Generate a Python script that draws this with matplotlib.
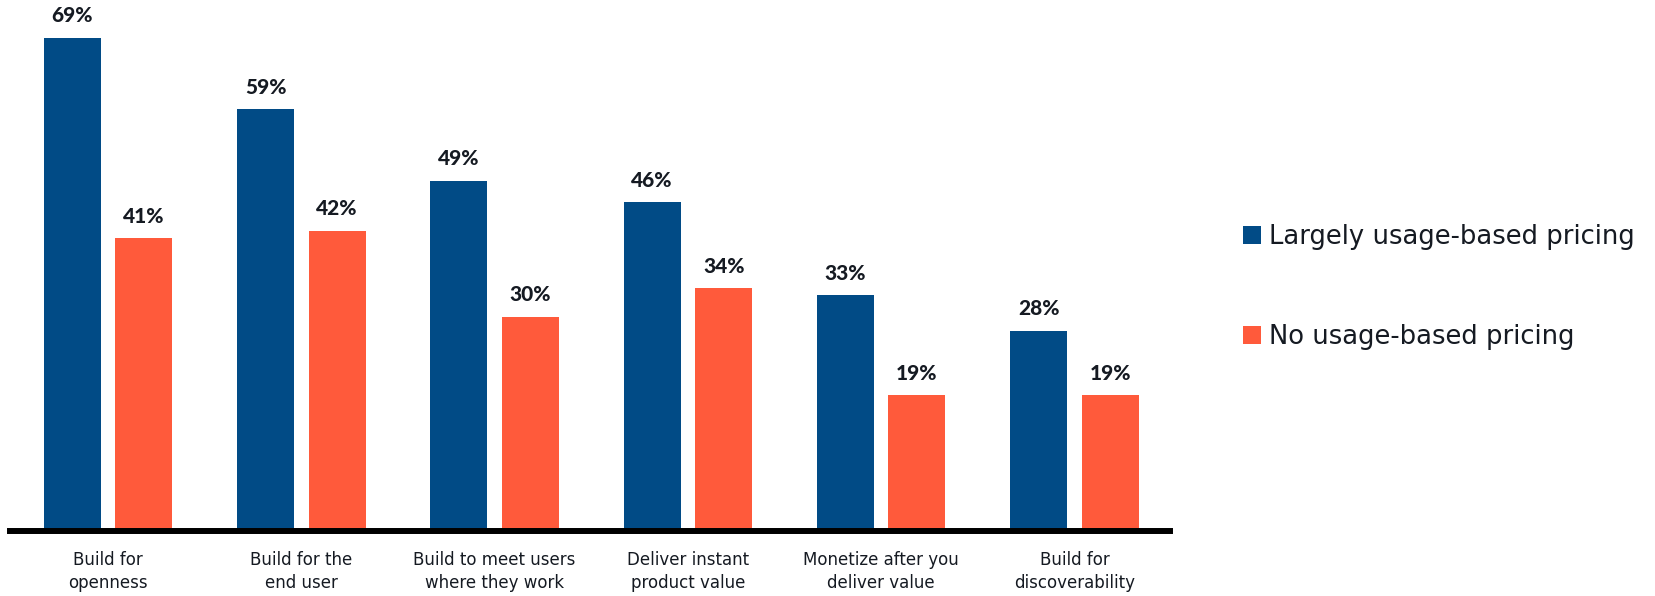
import matplotlib
matplotlib.use("Agg")
import matplotlib.pyplot as plt
import numpy as np

categories = ["Build for\nopenness", "Build for the\nend user", "Build to meet users\nwhere they work",
              "Deliver instant\nproduct value", "Monetize after you\ndeliver value", "Build for\ndiscoverability"]
series_names = ["Largely usage-based pricing", "No usage-based pricing"]
usage_based = [69, 59, 49, 46, 33, 28]
no_usage = [41, 42, 30, 34, 19, 19]

BLUE = "#014B86"
ORANGE = "#FF5A3B"
TEXT = "#151a22"

W, H = 1656, 596
fig = plt.figure(figsize=(W / 100, H / 100), dpi=100)
ax_left, ax_right = 10 / W, 1170 / W
ax_bottom, ax_top = 1 - 531 / H, 1 - 10 / H
ax = fig.add_axes([ax_left, ax_bottom, ax_right - ax_left, ax_top - ax_bottom])

x = np.arange(len(categories))
bw = 0.295
off = 0.185
b1 = ax.bar(x - off, usage_based, bw, color=BLUE, label=series_names[0])
b2 = ax.bar(x + off, no_usage, bw, color=ORANGE, label=series_names[1])

for bars, vals in ((b1, usage_based), (b2, no_usage)):
    ax.bar_label(bars, labels=[f"{v}%" for v in vals], padding=9,
                 fontsize=15, fontweight="black", color=TEXT, family="Lato")

ax.set_xlim(-0.507, 5.494)
ax.set_ylim(0, 521 / 7.145)
ax.set_xticks(x)
ax.set_xticklabels(categories, fontsize=12, color=TEXT, family="DejaVu Sans", linespacing=1.35)
ax.tick_params(axis="x", length=0, pad=14.5)
ax.set_yticks([])
for s in ("top", "right", "left"):
    ax.spines[s].set_visible(False)
ax.spines["bottom"].set_linewidth(4.3)
ax.spines["bottom"].set_color("black")

leg = fig.legend(handles=[b1, b2], labels=series_names, loc="center left",
                 bbox_to_anchor=(1233 / W, 1 - 287 / H), frameon=False,
                 prop={"family": "DejaVu Sans", "size": 18.6}, labelcolor=TEXT,
                 handlelength=0.68, handleheight=0.68, handletextpad=0.3,
                 labelspacing=2.85, borderaxespad=0)

fig.savefig("out.png", dpi=100)
